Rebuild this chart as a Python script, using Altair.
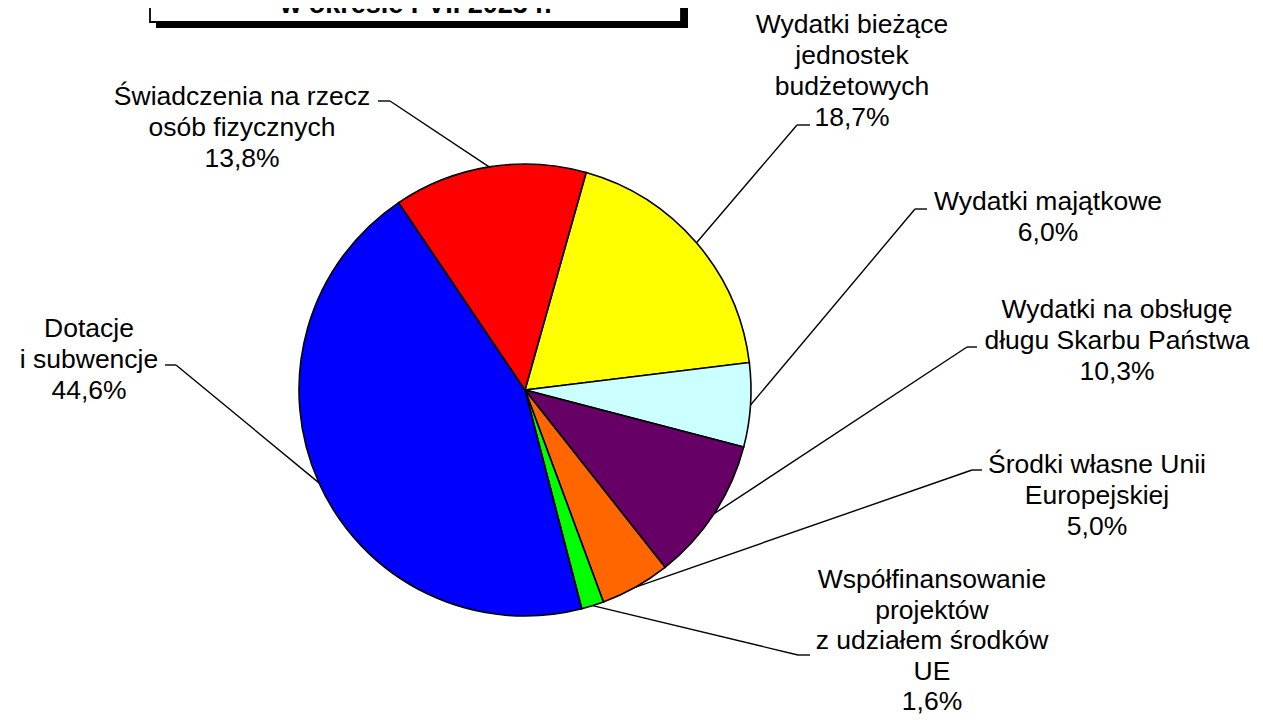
import math
import altair as alt
import pandas as pd

# ---- data ----
categories = [
    "Wydatki bieżące jednostek budżetowych",
    "Wydatki majątkowe",
    "Wydatki na obsługę długu Skarbu Państwa",
    "Środki własne Unii Europejskiej",
    "Współfinansowanie projektów z udziałem środków UE",
    "Dotacje i subwencje",
    "Świadczenia na rzecz osób fizycznych",
]
values = [18.7, 6.0, 10.3, 5.0, 1.6, 44.6, 13.8]
label_lines = [
    ["Wydatki bieżące", "jednostek", "budżetowych"],
    ["Wydatki majątkowe"],
    ["Wydatki na obsługę", "długu Skarbu Państwa"],
    ["Środki własne Unii", "Europejskiej"],
    ["Współfinansowanie", "projektów", "z udziałem środków", "UE"],
    ["Dotacje", "i subwencje"],
    ["Świadczenia na rzecz", "osób fizycznych"],
]
colors = ["#FFFF00", "#CCFFFF", "#660066", "#FF6600", "#00FF00", "#0000FF", "#FF0000"]
title_text = "w okresie I-VII 2023 r."

# ---- layout (page pixel coordinates) ----
label_x = [852, 1048, 1117, 1097, 932, 89, 242]
label_y = [33, 209.5, 317.5, 472.5, 588, 336.5, 104.5]   # baseline of first line
label_lh = [31, 31, 31, 31, 30.5, 31, 31]
elbow_x = [797, 915, 967, 972, 798, 176, 390]
elbow_end_x = [810, 927, 977, 982, 810, 165, 378]
elbow_y = [125, 209, 347, 470, 655, 365, 101]

W, H = 1247, 709
CX, CY, R = 525, 390, 226          # pie centre / radius in page coords
START = math.radians(15.7)

def fmt(v):
    return f"{v:.1f}".replace(".", ",") + "%"

df = pd.DataFrame({
    "idx": list(range(len(categories))),
    "category": categories,
    "value": values,
    "label": ["\n".join(l + [fmt(v)]) for l, v in zip(label_lines, values)],
    "tx": label_x,
    "ty": label_y,
    "lh": label_lh,
    "bx": elbow_x,
    "bx2": elbow_end_x,
    "by": elbow_y,
})

xs = alt.Scale(domain=[8, 8 + W], nice=False, zero=False)
ys = alt.Scale(domain=[8, 8 + H], nice=False, zero=False, reverse=True)

base = alt.Chart(df)

pie = base.mark_arc(radius=R, stroke="black", strokeWidth=1.6).encode(
    theta=alt.Theta("value:Q", stack=True,
                    scale=alt.Scale(range=[START, START + 2 * math.pi])),
    color=alt.Color("category:N", scale=alt.Scale(domain=categories, range=colors), legend=None),
    order=alt.Order("idx:Q"),
    x=alt.value(CX - 8),
    y=alt.value(CY - 8),
)

lead = base.transform_window(
    cum="sum(value)", sort=[alt.SortField("idx")], frame=[None, 0]
).transform_joinaggregate(
    total="sum(value)"
).transform_calculate(
    mid=f"{START} + 2*PI*(datum.cum - datum.value/2)/datum.total"
).transform_calculate(
    ex=f"{CX} + {R}*sin(datum.mid)",
    ey=f"{CY} - {R}*cos(datum.mid)",
)

diag = lead.mark_rule(color="black", strokeWidth=1.4).encode(
    x=alt.X("ex:Q", scale=xs, axis=None),
    y=alt.Y("ey:Q", scale=ys, axis=None),
    x2="bx:Q",
    y2="by:Q",
)
horiz = base.mark_rule(color="black", strokeWidth=1.4).encode(
    x=alt.X("bx:Q", scale=xs, axis=None),
    x2="bx2:Q",
    y=alt.Y("by:Q", scale=ys, axis=None),
)

def text_layer(lh):
    return base.transform_filter(alt.datum.lh == lh).mark_text(
        font="Liberation Sans", fontSize=26.5, lineBreak="\n", lineHeight=lh,
        align="center", baseline="alphabetic", color="black",
    ).encode(
        x=alt.X("tx:Q", scale=xs, axis=None),
        y=alt.Y("ty:Q", scale=ys, axis=None),
        text="label:N",
    )

labels = [text_layer(lh) for lh in sorted(set(label_lh))]

# title box with shadow
shadow = alt.Chart(pd.DataFrame({"a": [0]})).mark_rect(color="black").encode(
    x=alt.value(156 - 8), x2=alt.value(688 - 8), y=alt.value(-40), y2=alt.value(28 - 8)
)
box = alt.Chart(pd.DataFrame({"a": [0]})).mark_rect(
    fill="white", stroke="black", strokeWidth=1.8
).encode(
    x=alt.value(150 - 8), x2=alt.value(681 - 8), y=alt.value(-50), y2=alt.value(22 - 8)
)
title = alt.Chart(pd.DataFrame({"t": [title_text]})).mark_text(
    font="Liberation Sans", fontSize=27, fontWeight="bold", align="center",
    baseline="alphabetic", color="black",
).encode(x=alt.value(416 - 8), y=alt.value(13 - 8), text="t:N")

chart = alt.layer(shadow, box, title, diag, horiz, pie, *labels).properties(
    width=W, height=H, padding=0, autosize=alt.AutoSizeParams(type="none")
).configure_view(stroke=None)

chart.save("out.html", embed_options={"renderer": "svg", "actions": False})
